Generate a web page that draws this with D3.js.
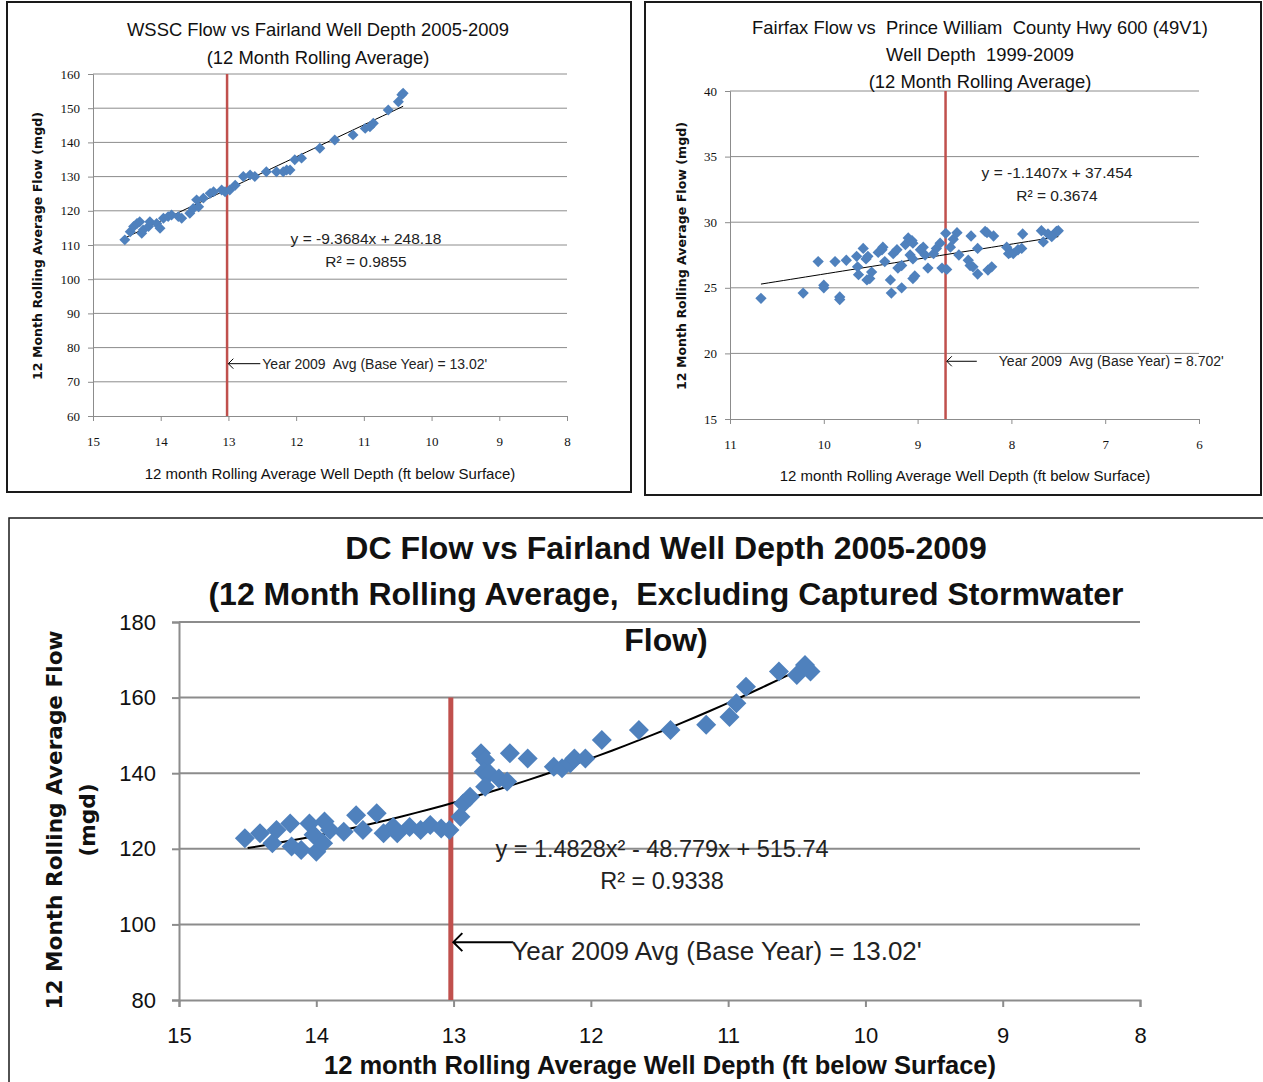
<!DOCTYPE html>
<meta charset="utf-8">
<style>
body { margin: 0; background: #fff; }
svg { display: block; }
.grid line { stroke: #8c8c8c; }
.axis path, .axis line { stroke: #8c8c8c; }
text { white-space: pre; }
</style>
<svg width="1263" height="1082"></svg>
<script src="https://d3js.org/d3.v7.min.js"></script>
<script>

// WSSC flow vs Fairland well depth
var wsscDepth = [14.53,14.45,14.40,14.35,14.31,14.28,14.26,14.18,14.16,14.06,14.01,13.96,13.89,13.84,13.74,13.69,13.57,13.52,13.47,13.44,13.37,13.27,13.22,13.10,13.05,12.98,12.90,12.78,12.68,12.61,12.44,12.29,12.19,12.14,12.09,12.02,11.92,11.65,11.43,11.16,10.98,10.91,10.86,10.64,10.49,10.44,10.42];
var wsscFlow  = [111.5,113.9,115.4,116.3,116.8,113.4,114.4,115.4,116.8,116.3,114.9,117.8,118.3,118.8,118.3,117.8,119.3,120.7,123.2,121.2,123.7,125.1,125.6,126.1,125.6,126.1,127.5,130.0,130.5,130.0,131.4,131.4,131.4,131.9,131.9,134.9,135.4,138.3,140.7,142.2,144.1,144.6,145.6,149.5,151.9,153.9,154.4];

// Fairfax flow vs Prince William County Hwy 600 well depth
var fairfaxDepth = [10.67,10.22,10.06,10.00,10.00,9.88,9.83,9.83,9.76,9.65,9.64,9.63,9.58,9.55,9.53,9.54,9.51,9.49,9.42,9.38,9.37,9.35,9.29,9.28,9.26,9.22,9.21,9.17,9.17,9.13,9.10,9.06,9.05,9.08,9.05,9.05,9.03,8.97,8.94,8.92,8.89,8.83,8.80,8.76,8.74,8.69,8.70,8.65,8.62,8.58,8.56,8.46,8.44,8.41,8.43,8.36,8.36,8.28,8.26,8.25,8.21,8.19,8.05,8.03,8.01,7.98,7.93,7.89,7.88,7.68,7.66,7.61,7.57,7.52,7.50];
var fairfaxFlow  = [24.2,24.6,27.0,25.2,25.0,27.0,24.3,24.1,27.1,27.4,26.6,26.0,28.0,27.2,27.4,25.6,25.7,26.2,27.7,27.9,28.1,27.0,25.6,24.6,27.6,27.9,26.5,25.0,26.7,28.3,28.8,28.6,28.4,27.5,27.2,25.7,25.9,27.9,28.1,27.5,26.5,27.6,28.0,28.4,26.5,26.4,29.15,28.1,28.7,29.2,27.5,27.1,26.7,26.6,28.95,28.0,26.05,29.3,29.2,26.35,26.6,28.95,28.1,27.6,27.7,27.6,27.9,28.0,29.1,29.35,28.5,29.1,28.9,29.3,29.35];

// DC flow vs Fairland well depth
var dcDepth = [14.52,14.41,14.32,14.29,14.19,14.18,14.11,14.05,14.02,14.00,13.95,13.94,13.90,13.80,13.71,13.66,13.56,13.51,13.44,13.41,13.32,13.24,13.17,13.09,13.03,12.95,12.93,12.88,12.80,12.77,12.78,12.74,12.77,12.67,12.61,12.59,12.46,12.27,12.21,12.15,12.12,12.04,11.92,11.65,11.42,11.16,10.99,10.94,10.87,10.63,10.50,10.44,10.40];
var dcFlow  = [122.8,124.1,121.5,125.0,126.7,120.6,119.7,126.7,123.7,119.2,121.5,127.2,125.0,124.5,128.9,125.0,129.4,124.1,125.8,124.1,125.8,125.0,126.3,125.4,125.0,128.5,132.0,133.8,145.3,143.5,140.4,140.0,136.4,138.6,137.8,145.3,143.9,141.7,141.3,142.6,143.9,143.9,148.8,151.4,151.4,152.8,154.9,158.5,162.9,166.9,166.0,168.6,166.9];

// axis ticks
var wsscYTicks = [60,70,80,90,100,110,120,130,140,150,160];
var wsscXTicks = [15,14,13,12,11,10,9,8];
var fairfaxYTicks = [15,20,25,30,35,40];
var fairfaxXTicks = [11,10,9,8,7,6];
var dcYTicks = [80,100,120,140,160,180];
var dcXTicks = [15,14,13,12,11,10,9,8];

// trendlines: coefficients, highest power first
var wsscFit = [-9.3684, 248.18];
var fairfaxFit = [-1.1407, 37.454];
var dcFit = [1.4828, -48.779, 515.74];

var svg = d3.select("svg");
svg.append("rect").attr("width", 1263).attr("height", 1082).attr("fill", "#fff");

var SANS = "'Liberation Sans', Arial, sans-serif";
var SERIF = "'Liberation Serif', 'Times New Roman', serif";
var WIDE = "'DejaVu Sans', Verdana, sans-serif";

function evalFit(c, x) {
  return c.reduce(function(a, k) { return a * x + k; }, 0);
}

function drawPanel(o) {
  var g = svg.append("g");

  // frame
  g.append("rect")
      .attr("x", o.frame[0]).attr("y", o.frame[1])
      .attr("width", o.frame[2]).attr("height", o.frame[3])
      .attr("fill", "none").attr("stroke", "#1a1a1a").attr("stroke-width", o.frameWidth);

  var x = d3.scaleLinear().domain(o.xDomain).range([o.left, o.right]);
  var y = d3.scaleLinear().domain(o.yDomain).range([o.bottom, o.top]);

  // gridlines
  g.append("g").attr("class", "grid")
    .selectAll("line").data(o.yTicks.slice(1)).enter().append("line")
      .attr("x1", o.left).attr("x2", o.right)
      .attr("y1", function(d) { return y(d); }).attr("y2", function(d) { return y(d); })
      .attr("stroke-width", o.gridWidth);

  g.append("g").attr("class", "axis")
      .attr("transform", "translate(0," + o.bottom + ")")
      .call(d3.axisBottom(x).tickValues(o.xTicks).tickFormat(d3.format("d"))
        .tickSizeOuter(0).tickSize(o.tickLen).tickPadding(o.xPad));
  g.append("g").attr("class", "axis")
      .attr("transform", "translate(" + o.left + ",0)")
      .call(d3.axisLeft(y).tickValues(o.yTicks).tickFormat(d3.format("d"))
        .tickSizeOuter(0).tickSize(o.tickLen).tickPadding(o.yPad));
  g.selectAll(".axis path, .axis line").attr("stroke-width", o.gridWidth);
  g.selectAll(".axis text")
      .attr("font-family", o.tickFont).attr("font-size", o.tickSize).attr("fill", "#111");

  // base year line
  g.append("line")
      .attr("x1", x(o.base)).attr("x2", x(o.base))
      .attr("y1", y(o.baseTop)).attr("y2", o.bottom)
      .attr("stroke", "#c0504d").attr("stroke-width", o.redWidth);

  // trendline
  var xs = d3.range(0, 41).map(function(i) { return o.fitFrom + (o.fitTo - o.fitFrom) * i / 40; });
  g.append("path")
      .datum(xs)
      .attr("fill", "none").attr("stroke", "#000").attr("stroke-width", o.fitWidth)
      .attr("d", d3.line()
        .x(function(d) { return x(d); })
        .y(function(d) { return y(evalFit(o.fit, d)); }));

  // points
  var pts = o.depth.map(function(d, i) { return [d, o.flow[i]]; });
  var sym = d3.symbol().type(d3.symbolSquare).size(o.markArea);
  g.append("g").selectAll("path").data(pts).enter().append("path")
      .attr("d", sym)
      .attr("transform", function(d) { return "translate(" + x(d[0]) + "," + y(d[1]) + ") rotate(45)"; })
      .attr("fill", "#4f81bd");

  // equation
  o.eq.forEach(function(t, i) {
    g.append("text")
        .attr("x", o.eqX).attr("y", o.eqY + i * o.eqGap)
        .attr("text-anchor", "middle")
        .attr("font-family", SANS).attr("font-size", o.eqSize).attr("fill", "#222")
        .text(t);
  });

  // arrow annotation
  var ax = x(o.base) + o.redWidth / 2, ay = y(o.arrowAt);
  g.append("path")
      .attr("d", "M" + (ax + o.arrowLen) + "," + ay + "H" + ax +
                 "M" + (ax + o.headLen) + "," + (ay - o.headLen) + "L" + ax + "," + ay + "L" + (ax + o.headLen) + "," + (ay + o.headLen))
      .attr("fill", "none").attr("stroke", "#000").attr("stroke-width", o.arrowWidth);
  g.append("text")
      .attr("x", ax + o.noteDx).attr("y", ay + o.noteDy)
      .attr("font-family", SANS).attr("font-size", o.noteSize).attr("fill", "#222")
      .text(o.note);

  // titles
  o.title.forEach(function(t, i) {
    g.append("text")
        .attr("x", o.titleX).attr("y", o.titleY + i * o.titleGap)
        .attr("text-anchor", "middle")
        .attr("font-family", SANS).attr("font-size", o.titleSize)
        .attr("font-weight", o.titleWeight).attr("fill", "#111")
        .text(t);
  });

  g.append("text")
      .attr("x", o.xTitleX).attr("y", o.xTitleY)
      .attr("text-anchor", "middle")
      .attr("font-family", SANS).attr("font-size", o.xTitleSize)
      .attr("font-weight", o.xTitleWeight).attr("fill", "#111")
      .text("12 month Rolling Average Well Depth (ft below Surface)");

  o.yTitle.forEach(function(t, i) {
    g.append("text")
        .attr("transform", "translate(" + (o.yTitleX + i * o.yTitleGap) + "," + o.yTitleY + ") rotate(-90)")
        .attr("text-anchor", "middle")
        .attr("font-family", WIDE).attr("font-size", o.yTitleSize)
        .attr("font-weight", "bold").attr("fill", "#111")
        .text(t);
  });
}

drawPanel({
  frame: [7, 2, 624, 490], frameWidth: 2,
  left: 93, right: 567, top: 74, bottom: 416,
  xDomain: [15, 8], yDomain: [60, 160],
  xTicks: wsscXTicks, yTicks: wsscYTicks,
  tickLen: 5, xPad: 16, yPad: 8, tickFont: SERIF, tickSize: 13, gridWidth: 1,
  depth: wsscDepth, flow: wsscFlow, markArea: 60,
  fit: wsscFit, fitFrom: 14.5, fitTo: 10.42, fitWidth: 1,
  base: 13.02, baseTop: 160, redWidth: 2.5,
  eq: ["y = -9.3684x + 248.18", "R\u00b2 = 0.9855"], eqX: 366, eqY: 244, eqGap: 23, eqSize: 15.5,
  arrowAt: 75.3, arrowLen: 32, headLen: 5, arrowWidth: 1,
  note: "Year 2009  Avg (Base Year) = 13.02'", noteDx: 34, noteDy: 5, noteSize: 14,
  title: ["WSSC Flow vs Fairland Well Depth 2005-2009", "(12 Month Rolling Average)"],
  titleX: 318, titleY: 36, titleGap: 28, titleSize: 18.4, titleWeight: "normal",
  xTitleX: 330, xTitleY: 479, xTitleSize: 15, xTitleWeight: "normal",
  yTitle: ["12 Month Rolling Average Flow (mgd)"], yTitleX: 42, yTitleY: 246, yTitleGap: 0, yTitleSize: 12.6
});

drawPanel({
  frame: [645, 2, 616, 493], frameWidth: 2,
  left: 730, right: 1199, top: 91, bottom: 419,
  xDomain: [11, 6], yDomain: [15, 40],
  xTicks: fairfaxXTicks, yTicks: fairfaxYTicks,
  tickLen: 5, xPad: 16, yPad: 8, tickFont: SERIF, tickSize: 13, gridWidth: 1,
  depth: fairfaxDepth, flow: fairfaxFlow, markArea: 64,
  fit: fairfaxFit, fitFrom: 10.67, fitTo: 7.5, fitWidth: 1,
  base: 8.702, baseTop: 40, redWidth: 2.5,
  eq: ["y = -1.1407x + 37.454", "R\u00b2 = 0.3674"], eqX: 1057, eqY: 178, eqGap: 23, eqSize: 15.5,
  arrowAt: 19.4, arrowLen: 30, headLen: 5, arrowWidth: 1,
  note: "Year 2009  Avg (Base Year) = 8.702'", noteDx: 52, noteDy: 5, noteSize: 14,
  title: ["Fairfax Flow vs  Prince William  County Hwy 600 (49V1)", "Well Depth  1999-2009", "(12 Month Rolling Average)"],
  titleX: 980, titleY: 34, titleGap: 27, titleSize: 18.4, titleWeight: "normal",
  xTitleX: 965, xTitleY: 481, xTitleSize: 15, xTitleWeight: "normal",
  yTitle: ["12 Month Rolling Average Flow (mgd)"], yTitleX: 686, yTitleY: 256, yTitleGap: 0, yTitleSize: 12.6
});

drawPanel({
  frame: [9, 518, 1262, 570], frameWidth: 1.5,
  left: 179, right: 1140, top: 622, bottom: 1000,
  xDomain: [15, 8], yDomain: [80, 180],
  xTicks: dcXTicks, yTicks: dcYTicks,
  tickLen: 7, xPad: 20, yPad: 16, tickFont: SANS, tickSize: 22, gridWidth: 2,
  depth: dcDepth, flow: dcFlow, markArea: 200,
  fit: dcFit, fitFrom: 14.5, fitTo: 10.42, fitWidth: 2,
  base: 13.02, baseTop: 160, redWidth: 5,
  eq: ["y = 1.4828x\u00b2 - 48.779x + 515.74", "R\u00b2 = 0.9338"], eqX: 662, eqY: 857, eqGap: 32, eqSize: 23.5,
  arrowAt: 95.3, arrowLen: 60, headLen: 9, arrowWidth: 2,
  note: "Year 2009 Avg (Base Year) = 13.02'", noteDx: 58, noteDy: 18, noteSize: 26,
  title: ["DC Flow vs Fairland Well Depth 2005-2009", "(12 Month Rolling Average,  Excluding Captured Stormwater", "Flow)"],
  titleX: 666, titleY: 559, titleGap: 46, titleSize: 32, titleWeight: "bold",
  xTitleX: 660, xTitleY: 1074, xTitleSize: 25.5, xTitleWeight: "bold",
  yTitle: ["12 Month Rolling Average Flow", "(mgd)"], yTitleX: 62, yTitleY: 820, yTitleGap: 33, yTitleSize: 21.6
});

</script>
